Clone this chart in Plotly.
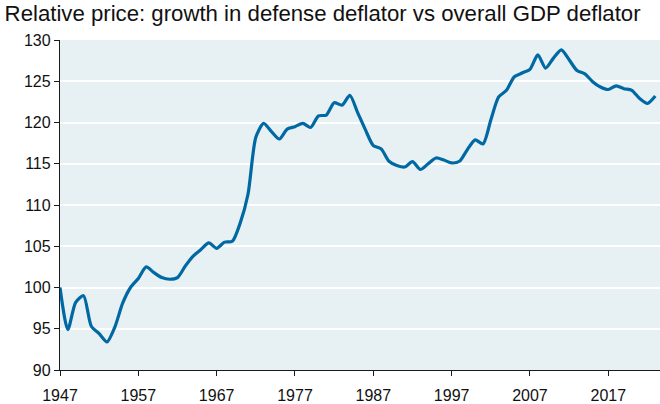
import plotly.graph_objects as go

title_text = "Relative price: growth in defense deflator vs overall GDP deflator"

years = list(range(1947, 2024))
relative_price = [
    100.0, 94.9, 98.2, 99.0, 95.3, 94.4, 93.4, 95.2, 98.1, 100.0,   # 1947-1956
    101.1, 102.5, 101.8, 101.2, 101.0, 101.2, 102.6, 103.8, 104.6, 105.4,  # 1957-1966
    104.75, 105.5, 105.6, 107.8, 111.3, 118.2, 119.9, 118.9, 118.0, 119.2,  # 1967-1976
    119.5, 119.9, 119.4, 120.8, 120.9, 122.4, 122.1, 123.3, 121.2, 119.1,  # 1977-1986
    117.2, 116.8, 115.3, 114.8, 114.6, 115.25, 114.3, 115.0, 115.7, 115.45,  # 1987-1996
    115.1, 115.3, 116.7, 117.9, 117.4, 120.3, 123.1, 123.9, 125.55, 126.0,  # 1997-2006
    126.45, 128.2, 126.6, 127.8, 128.8, 127.6, 126.3, 125.9, 124.95, 124.3,  # 2007-2016
    124.0, 124.45, 124.1, 123.9, 122.9, 122.3, 123.2,  # 2017-2023
]

x_tick_years = [1947, 1957, 1967, 1977, 1987, 1997, 2007, 2017]
x_tick_labels = [str(y) for y in x_tick_years]
y_tick_values = [90, 95, 100, 105, 110, 115, 120, 125, 130]

fig = go.Figure()
fig.add_trace(go.Scatter(
    x=years, y=relative_price, mode="lines",
    line=dict(color="#0069a3", width=3.2, shape="spline", smoothing=0.7),
    hoverinfo="x+y", showlegend=False,
))

fig.update_layout(
    width=660, height=404,
    margin=dict(l=60, r=0, t=40, b=34),
    paper_bgcolor="white",
    plot_bgcolor="#e7f0f3",
    font=dict(family="Liberation Sans, Arial, sans-serif", size=16, color="#111111"),
    title=dict(text=title_text, x=0.007, xanchor="left", y=0.986, yanchor="top",
               font=dict(size=22.2, color="#111111")),
)
fig.update_xaxes(
    range=[1947, 2023.6], automargin=False,
    tickvals=x_tick_years, ticktext=x_tick_labels,
    showgrid=False, zeroline=False,
    showline=True, linecolor="#1a1a1a", linewidth=1.3,
    ticks="outside", ticklen=5, tickcolor="#1a1a1a", tickwidth=1.3,
    tickfont=dict(size=16), ticklabelstandoff=6,
)
fig.update_yaxes(
    range=[90, 130], tickvals=y_tick_values, automargin=False,
    showgrid=True, gridcolor="white", gridwidth=2,
    zeroline=False,
    showline=True, linecolor="#1a1a1a", linewidth=1.3,
    ticks="outside", ticklen=5, tickcolor="#1a1a1a", tickwidth=1.3,
    tickfont=dict(size=16),
)

fig.write_html(
    "out.html",
    config={"displayModeBar": False},
    post_script="document.body.style.margin='0';document.body.style.padding='0';document.documentElement.style.overflow='hidden';",
)
